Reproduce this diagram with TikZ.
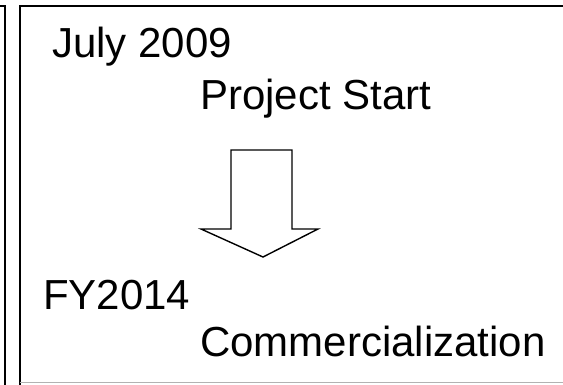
\documentclass[tikz,border=0pt]{standalone}
\usepackage{fontspec}
\setmainfont{Liberation Sans}
\usepackage{xcolor}
\usepackage{tikz}

\tikzset{
    label text/.style={anchor=base west, inner sep=0pt, font=\fontsize{42}{48}\selectfont},
}

\begin{document}
\begin{tikzpicture}[x=1pt, y=-1pt]
        \useasboundingbox (0, 0) rectangle (563, 384);
        \clip (0, 0) rectangle (563, 384);

        % neighbouring panel and the main panel
        \draw[line width=2pt] (-20, 6) -- (5, 6) -- (5, 400);
        \draw[line width=2pt] (20, 390) -- (20, 6) -- (580, 6);
        \draw[line width=1.5pt, gray!60] (20, 382.5) -- (580, 382.5);

        \node[label text] (start date) at (52, 57) {July 2009};
        \node[label text] (start) at (200, 109) {Project Start};
        \node[label text] (end date) at (43, 309) {FY2014};
        \node[label text] (end) at (200, 356) {Commercialization};

        % hollow block arrow
        \draw[line width=1.4pt, line join=miter] (231, 150) -- (292, 150)
            -- (292, 229) -- (318, 229) -- (263, 257) -- (201, 229)
            -- (231, 229) -- cycle;

    \end{tikzpicture}
\end{document}
